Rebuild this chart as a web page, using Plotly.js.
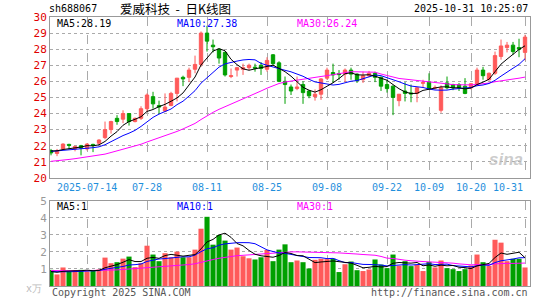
<!DOCTYPE html>
<html><head><meta charset="utf-8">
<script src="https://cdn.plot.ly/plotly-3.0.1.min.js"></script>
<style>html,body{margin:0;padding:0;background:#fff}#c{width:545px;height:300px}</style>
</head><body><div id="c"></div><script>
// Daily K-line for sh688067, 2025-07-04 .. 2025-10-31 (80 trading days)
const openP  = [21.70,21.52,21.80,22.08,21.80,22.00,21.80,22.08,22.15,22.50,
                23.00,23.70,23.65,24.00,23.50,23.70,24.30,25.05,24.50,24.15,
                24.50,25.25,26.25,26.25,26.75,27.05,29.00,28.25,28.00,27.80,
                26.30,26.70,26.75,26.85,26.88,27.00,26.75,27.65,27.15,26.00,
                25.65,25.55,25.80,25.40,25.05,25.20,26.20,26.55,26.48,26.45,
                26.70,26.45,26.10,26.35,26.50,26.25,25.80,25.70,24.80,25.40,
                25.28,25.25,25.88,25.95,25.58,24.20,25.90,25.80,25.80,25.70,
                25.60,25.80,26.70,26.10,26.50,27.55,28.10,28.25,28.10,27.80];
const highP  = [21.80,21.80,22.15,22.12,22.00,22.05,22.15,22.12,22.40,23.50,
                23.55,23.90,24.20,24.00,23.75,24.45,25.25,25.35,24.80,25.25,
                25.35,26.20,26.35,26.85,27.60,29.10,29.45,28.60,28.05,27.85,
                26.80,26.90,27.10,27.10,27.10,27.20,27.50,27.70,27.25,26.30,
                25.80,26.30,26.00,25.45,25.50,26.20,26.85,27.10,26.70,26.80,
                26.85,26.50,26.60,26.65,26.60,26.30,26.10,25.75,25.20,25.95,
                25.80,25.65,26.10,26.50,25.75,25.75,26.30,25.85,25.90,26.20,
                25.90,26.85,26.90,26.55,27.85,28.60,28.45,28.45,28.65,28.90];
const lowP   = [21.40,21.35,21.75,21.78,21.65,21.40,21.70,21.60,22.05,22.40,
                22.75,23.30,23.40,23.25,23.45,23.60,24.10,24.30,23.96,24.10,
                24.45,24.75,25.70,25.95,26.50,26.90,27.85,27.80,27.10,26.30,
                26.20,26.30,26.40,26.70,26.60,26.40,26.60,27.00,25.95,24.60,
                25.15,25.45,24.60,24.95,24.80,24.85,26.10,25.90,26.10,25.95,
                26.10,25.90,25.90,26.25,25.95,25.40,25.30,23.90,24.45,24.75,
                24.70,24.70,25.60,25.50,25.50,24.05,25.50,25.45,25.40,25.20,
                25.50,25.70,26.10,26.05,26.40,27.35,27.80,27.65,27.50,27.30];
const closeP = [21.55,21.66,22.10,22.02,21.95,21.85,22.10,22.02,22.35,23.00,
                23.50,23.50,24.00,23.50,23.70,24.30,25.15,24.60,24.40,24.40,
                25.25,26.20,26.15,26.70,27.05,29.00,28.50,28.15,27.45,26.40,
                26.35,26.85,26.85,27.00,26.82,26.80,27.30,27.10,26.00,25.80,
                25.40,25.65,25.30,25.10,25.20,26.15,26.70,26.40,26.42,26.70,
                26.45,26.05,26.35,26.50,26.25,25.70,25.55,25.00,25.20,25.25,
                25.22,25.60,25.92,25.55,25.62,25.60,25.60,25.60,25.60,25.25,
                25.85,26.70,26.35,26.50,27.60,28.20,28.25,27.85,28.00,28.75];
// volume, unit 万
const volume = [0.95,0.68,1.09,0.86,0.91,0.95,0.86,0.91,0.97,1.67,
                1.34,1.40,1.61,1.73,1.11,1.34,2.37,1.85,1.46,1.93,
                1.69,2.02,1.69,1.69,2.14,3.37,4.07,2.43,3.00,2.67,
                2.14,2.26,1.75,1.63,1.56,1.69,2.12,1.46,2.14,2.45,
                1.40,1.50,1.40,1.03,1.54,1.60,1.58,1.61,0.82,1.28,
                1.44,0.93,0.88,0.97,1.56,1.26,1.05,1.85,1.19,1.46,
                1.17,1.25,0.88,1.42,1.09,1.50,1.05,0.99,0.88,0.99,
                1.21,1.85,1.40,1.19,2.72,2.55,1.46,1.60,1.60,1.09];
// estimated earlier closes / volumes (before 07-04) so the moving averages start where the chart shows them
const earlierClose = [20.9,20.8,20.6,20.5,20.4,20.5,20.6,20.7,20.6,20.5,
                      20.6,20.7,20.8,20.7,20.8,20.9,20.8,20.9,21.0,21.1,
                      21.4,21.5,21.7,21.8,21.7,21.6,21.7,21.8,21.7];
const earlierVol   = [1.0,0.9,0.8,1.1,0.9,0.8,1.0,0.9,1.2,1.0,
                      0.9,0.8,0.9,1.0,1.1,0.9,0.8,1.0,0.9,0.9,
                      0.8,0.9,1.0,0.8,0.7,0.9,0.8,0.7,0.9];
const tickIdx    = [6,16,26,36,46,56,63,70,79];
const tickLabels = ['2025-07-14','07-28','08-11','08-25','09-08','09-22','10-09','10-20','10-31'];

function ma(vals, lead, n){
  const all = lead.concat(vals), off = lead.length, out = [];
  for (let i=0;i<vals.length;i++){
    let s=0; for(let k=0;k<n;k++) s+=all[off+i-k];
    out.push(s/n);
  }
  return out;
}
const idx = closeP.map((_,i)=>i);
const RED='#ff5a5a', GREEN='#00a000';
const mono = 'DejaVu Sans Mono, monospace';
const xr = [-0.17, 79.83];

const traces = [
  {type:'candlestick', x:idx, open:openP, high:highP, low:lowP, close:closeP,
   increasing:{line:{color:RED,width:1}, fillcolor:RED},
   decreasing:{line:{color:GREEN,width:1}, fillcolor:GREEN},
   whiskerwidth:0, xaxis:'x', yaxis:'y', hoverinfo:'skip'},
  {type:'scatter', mode:'lines', x:idx, y:ma(closeP,earlierClose,30), line:{color:'#ff00ff',width:1}, xaxis:'x', yaxis:'y', hoverinfo:'skip'},
  {type:'scatter', mode:'lines', x:idx, y:ma(closeP,earlierClose,10), line:{color:'#0000ff',width:1}, xaxis:'x', yaxis:'y', hoverinfo:'skip'},
  {type:'scatter', mode:'lines', x:idx, y:ma(closeP,earlierClose,5), line:{color:'#000000',width:1}, xaxis:'x', yaxis:'y', hoverinfo:'skip'},
  {type:'bar', x:idx, y:volume, marker:{color:idx.map(i=>closeP[i]>=openP[i]?RED:GREEN), line:{width:0}}, xaxis:'x2', yaxis:'y2', hoverinfo:'skip'},
  {type:'scatter', mode:'lines', x:idx, y:ma(volume,earlierVol,30), line:{color:'#ff00ff',width:1}, xaxis:'x2', yaxis:'y2', hoverinfo:'skip'},
  {type:'scatter', mode:'lines', x:idx, y:ma(volume,earlierVol,10), line:{color:'#0000ff',width:1}, xaxis:'x2', yaxis:'y2', hoverinfo:'skip'},
  {type:'scatter', mode:'lines', x:idx, y:ma(volume,earlierVol,5), line:{color:'#000000',width:1}, xaxis:'x2', yaxis:'y2', hoverinfo:'skip'}
];

function ann(text,x,y,xa,color,size,fam){
  return {text:text, x:x, y:y, xref:'paper', yref:'paper', xanchor:xa, yanchor:'middle',
          showarrow:false, font:{family:fam||mono, size:size||10, color:color||'#000'}};
}
const dateAnns = tickIdx.map((v,k)=>({
  text:tickLabels[k], x:v, xref:'x', y:0.368, yref:'paper',
  xanchor:(k===tickIdx.length-1)?'right':'center', yanchor:'middle', showarrow:false,
  font:{family:mono, size:10, color:'#1f8fdc'}
}));
const layout = {
  width:545, height:300, paper_bgcolor:'#fff', plot_bgcolor:'#fff',
  margin:{l:50, r:15, t:17, b:14}, showlegend:false, bargap:0.15, boxgap:0.2,
  font:{family:mono, size:10},
  xaxis:{domain:[0,1], anchor:'y', range:xr, tickvals:tickIdx, showticklabels:false,
         showgrid:true, gridcolor:'#aaa', griddash:'dash', gridwidth:1,
         showline:true, mirror:true, linecolor:'#999', linewidth:1, ticks:'', zeroline:false,
         rangeslider:{visible:false}, fixedrange:true},
  yaxis:{domain:[0.402,1], anchor:'x', range:[20,30], tickvals:[20,21,22,23,24,25,26,27,28,29,30],
         showgrid:true, gridcolor:'#aaa', griddash:'dot', showline:true, mirror:true, linecolor:'#999',
         ticks:'', zeroline:false, tickfont:{family:mono, size:11, color:'#e00000'}},
  xaxis2:{domain:[0,1], anchor:'y2', range:xr, tickvals:tickIdx, showticklabels:false,
          showgrid:true, gridcolor:'#aaa', griddash:'dash', showline:true, mirror:true, linecolor:'#999',
          ticks:'', zeroline:false},
  yaxis2:{domain:[0,0.316], anchor:'x2', range:[0,5], tickvals:[1,2,3,4,5],
          showgrid:true, gridcolor:'#aaa', griddash:'dot', showline:true, mirror:true, linecolor:'#999',
          ticks:'', zeroline:false, tickfont:{family:mono, size:11, color:'#999'}},
  annotations:[
    ann('sh688067', -0.006, 1.03, 'left', '#000', 10),
    ann('爱威科技\u00a0\u00a0-\u00a0\u00a0日K线图', 0.142, 1.03, 'left', '#000', 12.5, 'Noto Sans CJK SC'),
    ann('2025-10-31 10:25:07', 1.0, 1.03, 'right', '#000', 10),
    ann('MA5:28.19', 0.01, 0.974, 'left', '#000', 10),
    ann('MA10:27.38', 0.26, 0.974, 'left', '#0000ff', 10),
    ann('MA30:26.24', 0.511, 0.974, 'left', '#ff00ff', 10),
    ann('MA5:1', 0.01, 0.297, 'left', '#000', 10),
    ann('MA10:1', 0.26, 0.297, 'left', '#0000ff', 10),
    ann('MA30:1', 0.511, 0.297, 'left', '#ff00ff', 10),
    ann('x万', -0.013, -0.01, 'right', '#bbb', 10),
    ann('Copyright 2025 SINA.COM', 0.0, -0.023, 'left', '#555', 10),
    ann('http://finance.sina.com.cn', 1.0, -0.023, 'right', '#555', 10),
    {text:'<i><b>sina</b></i>', x:0.99, y:0.47, xref:'paper', yref:'paper', xanchor:'right', yanchor:'middle',
     showarrow:false, font:{family:'Liberation Sans, sans-serif', size:17, color:'rgba(190,190,190,0.8)'}}
  ].concat(dateAnns)
};
Plotly.newPlot('c', traces, layout, {staticPlot:true, displayModeBar:false});
</script></body></html>
